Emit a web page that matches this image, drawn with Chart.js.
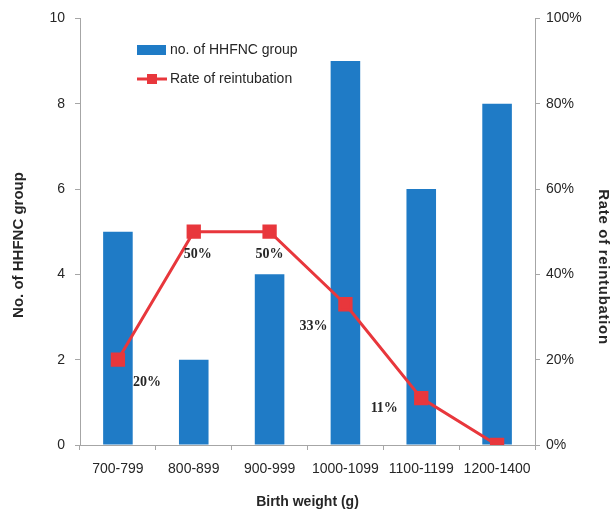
<!DOCTYPE html>
<html>
<head>
<meta charset="utf-8">
<script src="https://cdn.jsdelivr.net/npm/chart.js@4.4.1/dist/chart.umd.min.js"></script>
<style>
  html, body { margin: 0; padding: 0; background: #fff; }
  #wrap { width: 614px; height: 513px; }
</style>
</head>
<body>
<div id="wrap"><canvas id="c" width="614" height="513"></canvas></div>
<script>
// Birth-weight groups and their values
const categories = ['700-799', '800-899', '900-999', '1000-1099', '1100-1199', '1200-1400'];
const groupCounts = [5, 2, 4, 9, 6, 8];
const reintubationRates = [20, 50, 50, 33, 11, 0];
const rateLabels = ['20%', '50%', '50%', '33%', '11%', ''];
const countTicks = [0, 2, 4, 6, 8, 10];
const rateTicks = [0, 20, 40, 60, 80, 100];
const leftTitle = 'No. of HHFNC group';
const rightTitle = 'Rate of reintubation';

// label placement relative to each point (pixels)
const labelOffsets = [[29, 23], [4, 23], [0, 23], [-32, 22], [-37, 10], [0, 0]];

const BLUE = '#1f7bc6';
const RED = '#e8373c';
const AXIS = '#a6a6a6';
const TEXT = '#262626';
const SANS = '"Liberation Sans", Arial, sans-serif';

// legend inside the plot area, percentage labels and the two vertical axis titles
const overlay = {
  id: 'overlay',
  afterDatasetsDraw(chart) {
    const ctx = chart.ctx;
    const lineMeta = chart.getDatasetMeta(0);
    ctx.save();
    ctx.font = 'bold 14px "Liberation Serif", "Times New Roman", serif';
    ctx.fillStyle = TEXT;
    ctx.textAlign = 'center';
    ctx.textBaseline = 'middle';
    lineMeta.data.forEach((pt, i) => {
      if (!rateLabels[i]) return;
      ctx.fillText(rateLabels[i], pt.x + labelOffsets[i][0], pt.y + labelOffsets[i][1]);
    });

    // legend
    const lx = 137;
    ctx.font = '14px ' + SANS;
    ctx.textAlign = 'left';
    ctx.fillStyle = chart.data.datasets[1].backgroundColor;
    ctx.fillRect(lx, 45, 29, 10);
    ctx.fillStyle = TEXT;
    ctx.fillText(chart.data.datasets[1].label, lx + 33, 50);

    ctx.strokeStyle = chart.data.datasets[0].borderColor;
    ctx.lineWidth = 3;
    ctx.beginPath();
    ctx.moveTo(lx, 79);
    ctx.lineTo(lx + 30, 79);
    ctx.stroke();
    ctx.fillStyle = chart.data.datasets[0].borderColor;
    ctx.fillRect(lx + 10, 74, 10, 10);
    ctx.fillStyle = TEXT;
    ctx.fillText(chart.data.datasets[0].label, lx + 33, 79);

    // vertical axis titles
    ctx.font = 'bold 15px ' + SANS;
    ctx.textAlign = 'center';
    ctx.save();
    ctx.translate(19, 245);
    ctx.rotate(-Math.PI / 2);
    ctx.fillText(leftTitle, 0, 0);
    ctx.restore();

    ctx.save();
    if ('letterSpacing' in ctx) ctx.letterSpacing = '0.7px';
    ctx.translate(603, 267);
    ctx.rotate(Math.PI / 2);
    ctx.fillText(rightTitle, 0, 0);
    ctx.restore();
    ctx.restore();
  }
};

new Chart(document.getElementById('c'), {
  type: 'bar',
  data: {
    labels: categories,
    datasets: [
      {
        type: 'line',
        label: 'Rate of reintubation',
        data: reintubationRates,
        yAxisID: 'y1',
        borderColor: RED,
        backgroundColor: RED,
        borderWidth: 3,
        pointStyle: 'rect',
        pointRadius: 8,
        pointBackgroundColor: RED,
        pointBorderColor: RED,
        tension: 0,
        order: 0
      },
      {
        type: 'bar',
        label: 'no. of HHFNC group',
        data: groupCounts,
        yAxisID: 'y',
        backgroundColor: BLUE,
        barPercentage: 0.39,
        categoryPercentage: 1,
        order: 1
      }
    ]
  },
  options: {
    responsive: false,
    animation: false,
    devicePixelRatio: 1,
    layout: { padding: { top: 7, left: 0, right: 0, bottom: 0 } },
    plugins: {
      legend: { display: false },
      tooltip: { enabled: false }
    },
    scales: {
      x: {
        offset: true,
        grid: { drawOnChartArea: false, color: AXIS, tickLength: 5, offset: true },
        border: { color: AXIS },
        ticks: { color: TEXT, font: { family: SANS, size: 14 }, padding: 11, maxRotation: 0, autoSkip: false },
        title: { display: true, text: 'Birth weight (g)', color: TEXT, font: { family: SANS, size: 14, weight: 'bold' }, padding: 2 },
        afterFit(s) { s.height = 68; }
      },
      y: {
        position: 'left',
        min: 0, max: 10,
        afterBuildTicks(s) { s.ticks = countTicks.map(v => ({ value: v })); },
        grid: { drawOnChartArea: false, color: AXIS, tickLength: 5 },
        border: { color: AXIS },
        ticks: { color: TEXT, font: { family: SANS, size: 14 }, padding: 10 },
        afterFit(s) { s.width = 80; }
      },
      y1: {
        position: 'right',
        min: 0, max: 100,
        afterBuildTicks(s) { s.ticks = rateTicks.map(v => ({ value: v })); },
        grid: { drawOnChartArea: false, color: AXIS, tickLength: 5 },
        border: { color: AXIS },
        ticks: { color: TEXT, font: { family: SANS, size: 14 }, padding: 6, callback: v => v + '%' },
        afterFit(s) { s.width = 79; }
      }
    }
  },
  plugins: [overlay]
});
</script>
</body>
</html>
